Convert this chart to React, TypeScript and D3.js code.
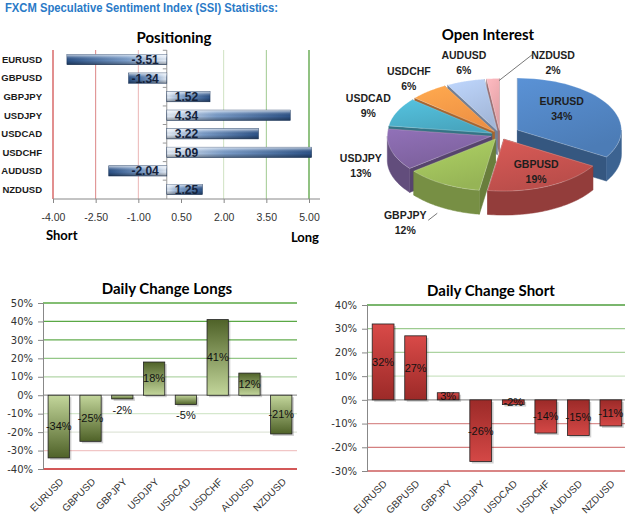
import { useEffect, useRef } from 'react'
import * as d3 from 'd3'

// currency pairs shared by every panel
const pairs = ['EURUSD', 'GBPUSD', 'GBPJPY', 'USDJPY', 'USDCAD', 'USDCHF', 'AUDUSD', 'NZDUSD']

// Positioning (SSI ratio)
const ssiValues = [-3.51, -1.34, 1.52, 4.34, 3.22, 5.09, -2.04, 1.25]
const positionTicks = [-4, -2.5, -1, 0.5, 2, 3.5, 5]

// Open interest share, %
const openInterest = [34, 19, 12, 13, 9, 6, 6, 2]

// Daily change, %
const longChange = [-34, -25, -2, 18, -5, 41, 12, -21]
const shortChange = [32, 27, 3, -26, -2, -14, -15, -11]
const longTicks = [50, 40, 30, 20, 10, 0, -10, -20, -30, -40]
const shortTicks = [40, 30, 20, 10, 0, -10, -20, -30]

// styles
const posGridColors = ['#d86a6a', '#dc8585', '#ebb5b5', 'none', '#cfe2c2', '#9fc98f', '#6cae58']
const longGridColors = ['#5aa845', '#5aa845', '#63ac4f', '#94c787', '#b3d6a8', '#999', '#d5e8cd', '#e0e6da', '#f1c6c6', '#c42020']
const shortGridColors = ['#4e9e3c', '#9dcb90', '#acd3a0', '#cde4c4', '#999', '#d98f8f', '#d48080', '#cc5c5c']
const pieColors = ['#4f81bd', '#c0504d', '#9bbb59', '#8064a2', '#4bacc6', '#f79646', '#a9bee0', '#e8a5aa']

const LS = 'Liberation Sans, Arial, sans-serif'
const LATO = 'Lato, Calibri, sans-serif'

const App = () => {
  const chart = useRef<SVGSVGElement>(null)

  useEffect(() => {
    const svg = d3.select(chart.current)
    svg.selectAll('*').remove()
    const defs = svg.append('defs')

    const gradient = (id: string, vertical: boolean, stops: [number, string, number?][]) => {
      const g = defs.append('linearGradient').attr('id', id)
        .attr('x1', 0).attr('y1', 0).attr('x2', vertical ? 0 : 1).attr('y2', vertical ? 1 : 0)
      stops.forEach(s => g.append('stop').attr('offset', s[0]).attr('stop-color', s[1]).attr('stop-opacity', s[2] ?? 1))
    }
    gradient('blueNeg', false, [[0, '#2c5287'], [0.6, '#7a9cc8'], [1, '#e4ecf6']])
    gradient('bluePos', false, [[0, '#e4ecf6'], [0.4, '#7a9cc8'], [1, '#2c5287']])
    gradient('sheen', true, [[0, '#fff', 0.7], [0.3, '#fff', 0.15], [0.6, '#000', 0], [1, '#000', 0.35]])
    gradient('greenPos', true, [[0, '#4f6228'], [1, '#c3d69b']])
    gradient('greenNeg', true, [[0, '#c3d69b'], [1, '#4f6228']])
    gradient('redPos', true, [[0, '#d94a48'], [1, '#9c2a28']])
    gradient('redNeg', true, [[0, '#9c2a28'], [1, '#d44846']])

    // page header
    svg.append('text')
      .attr('x', 5).attr('y', 12)
      .attr('font-family', LS).attr('font-weight', 'bold').attr('font-size', 12)
      .attr('textLength', 273).attr('lengthAdjust', 'spacingAndGlyphs')
      .attr('fill', '#2a7ac7')
      .text('FXCM Speculative  Sentiment  Index (SSI) Statistics:')

    // ---------- Positioning ----------
    const xs = d3.scaleLinear().domain([-4, 5]).range([53, 309])
    const ys = d3.scaleBand().domain(pairs).range([50, 199]).paddingInner(0.45).paddingOuter(0.24)
    const g1 = svg.append('g')

    g1.append('text').attr('x', 174).attr('y', 43).attr('text-anchor', 'middle')
      .attr('font-family', LATO).attr('font-weight', 'bold').attr('font-size', 15).text('Positioning')

    g1.selectAll('.grid').data(positionTicks).enter().append('line')
      .attr('x1', d => xs(d)).attr('x2', d => xs(d)).attr('y1', 50).attr('y2', 199)
      .attr('stroke', (d, i) => posGridColors[i])
      .attr('stroke-width', (d, i) => (i === 0 || i === 6 ? 1.5 : 1))

    const ax = g1.append('g').attr('transform', 'translate(0,199)')
      .call(d3.axisBottom(xs).tickValues(positionTicks).tickFormat(d => (+d).toFixed(2)).tickSize(4).tickPadding(11))
    ax.select('.domain').remove()
    ax.selectAll('line').attr('stroke', '#888')
    ax.selectAll('text').attr('font-family', LS).attr('font-size', 10.5).attr('fill', '#333')
    g1.append('line').attr('x1', 53).attr('x2', 320).attr('y1', 199).attr('y2', 199).attr('stroke', '#888')

    // category axis crossing at zero
    const x0 = xs(0)
    g1.append('line').attr('x1', x0).attr('x2', x0).attr('y1', 50).attr('y2', 199).attr('stroke', '#999')
    g1.selectAll('.minor').data(pairs).enter().append('line')
      .attr('x1', x0 - 4).attr('x2', x0).attr('y1', d => ys(d)! - ys.step() * 0.225).attr('y2', d => ys(d)! - ys.step() * 0.225)
      .attr('stroke', '#999')

    g1.selectAll('.cat').data(pairs).enter().append('text')
      .attr('x', 42).attr('y', d => ys(d)! + ys.bandwidth() / 2).attr('dy', '0.35em')
      .attr('text-anchor', 'end').attr('font-family', LS).attr('font-weight', 'bold').attr('font-size', 9.5)
      .attr('fill', '#1a1a1a').text(d => d)

    const bars = g1.selectAll('.bar').data(ssiValues).enter().append('g')
    bars.append('rect')
      .attr('x', d => xs(Math.min(0, d))).attr('y', (d, i) => ys(pairs[i])!)
      .attr('width', d => Math.abs(xs(d) - x0)).attr('height', ys.bandwidth())
      .attr('fill', d => (d < 0 ? 'url(#blueNeg)' : 'url(#bluePos)'))
      .attr('stroke', '#1f3a60').attr('stroke-width', 0.6)
    bars.append('rect')
      .attr('x', d => xs(Math.min(0, d))).attr('y', (d, i) => ys(pairs[i])!)
      .attr('width', d => Math.abs(xs(d) - x0)).attr('height', ys.bandwidth())
      .attr('fill', 'url(#sheen)')
    bars.append('text')
      .attr('x', d => (d < 0 ? x0 - 8 : x0 + 8)).attr('y', (d, i) => ys(pairs[i])! + ys.bandwidth() / 2)
      .attr('dy', '0.38em').attr('text-anchor', d => (d < 0 ? 'end' : 'start'))
      .attr('font-family', LS).attr('font-weight', 'bold').attr('font-size', 12).attr('fill', '#14223a')
      .text(d => d.toFixed(2))

    g1.append('text').attr('x', 46).attr('y', 240)
      .attr('font-family', LATO).attr('font-weight', 'bold').attr('font-size', 13).text('Short')
    g1.append('text').attr('x', 319).attr('y', 242).attr('text-anchor', 'end')
      .attr('font-family', LATO).attr('font-weight', 'bold').attr('font-size', 13).text('Long')

    // ---------- Open Interest (3D exploded pie) ----------
    const g2 = svg.append('g')
    g2.append('text').attr('x', 488).attr('y', 40).attr('text-anchor', 'middle')
      .attr('font-family', LATO).attr('font-weight', 'bold').attr('font-size', 15).text('Open Interest')

    const cx = 500, cy = 135, rx = 104, ry = 52, depth = 24
    const P = (a: number, r = 1): [number, number] => [rx * r * Math.sin(a), -ry * r * Math.cos(a)]
    const arcPts = (a0: number, a1: number, dy = 0): [number, number][] =>
      d3.range(0, 1.0001, 1 / 40).map(t => {
        const p = P(a0 + (a1 - a0) * t)
        return [p[0], p[1] + dy]
      })
    const line = d3.line()
    const slices = d3.pie<number>().sort(null).value(d => d)(openInterest)
    const explode = (i: number) => (i === 0 ? 20 : 9)

    type Face = { pts: [number, number][]; fill: string; z: number }
    const sideFaces: Face[] = []
    const topFaces: { pts: [number, number][]; i: number }[] = []

    slices.forEach((s, i) => {
      const mid = (s.startAngle + s.endAngle) / 2
      const e = explode(i)
      const ox = cx + e * Math.sin(mid), oy = cy - e * Math.cos(mid) * ry / rx
      const shift = (pts: [number, number][]) => pts.map(p => [p[0] + ox, p[1] + oy] as [number, number])
      const base = d3.color(pieColors[i])!
      const zOf = (pts: [number, number][]) => d3.mean(pts, p => p[1])!

      ;[s.startAngle, s.endAngle].forEach(a => {
        const p = P(a)
        const pts = shift([[0, 0], p, [p[0], p[1] + depth], [0, depth]])
        sideFaces.push({ pts, fill: base.darker(1.1).toString(), z: zOf(pts) })
      })
      const a0 = Math.max(s.startAngle, Math.PI / 2), a1 = Math.min(s.endAngle, Math.PI * 1.5)
      if (a0 < a1) {
        const pts = shift([...arcPts(a0, a1), ...arcPts(a1, a0, depth)])
        sideFaces.push({ pts, fill: base.darker(0.75).toString(), z: zOf(pts) + 5 })
      }
      topFaces.push({ pts: shift([[0, 0], ...arcPts(s.startAngle, s.endAngle)]), i })

      const tg = defs.append('linearGradient').attr('id', 'slice' + i)
        .attr('x1', 0).attr('y1', 0).attr('x2', 0.4).attr('y2', 1)
      tg.append('stop').attr('offset', 0).attr('stop-color', base.brighter(0.35).toString())
      tg.append('stop').attr('offset', 1).attr('stop-color', base.darker(0.1).toString())
    })

    sideFaces.sort((a, b) => a.z - b.z)
    g2.selectAll('.side').data(sideFaces).enter().append('path')
      .attr('d', d => line(d.pts) + 'Z').attr('fill', d => d.fill)
      .attr('stroke', d => d.fill).attr('stroke-width', 0.5)
    g2.selectAll('.top').data(topFaces).enter().append('path')
      .attr('d', d => line(d.pts) + 'Z').attr('fill', d => `url(#slice${d.i})`)
      .attr('stroke', '#fff').attr('stroke-opacity', 0.4).attr('stroke-width', 0.6)

    // pie labels
    const labelShift: Record<string, [number, number]> = { EURUSD: [-10, -6], GBPUSD: [6, 4], GBPJPY: [-22, 14], AUDUSD: [8, -4], NZDUSD: [62, 0] }
    slices.forEach((s, i) => {
      const mid = (s.startAngle + s.endAngle) / 2
      const e = explode(i)
      const ox = cx + e * Math.sin(mid), oy = cy - e * Math.cos(mid) * ry / rx
      const inside = s.data >= 15
      const p = P(mid, inside ? 0.6 : 1.3)
      const lower = Math.cos(mid) < 0 && !inside ? depth / 2 : 0
      const sh = labelShift[pairs[i]] ?? [0, 0]
      const lx = ox + p[0] + sh[0], ly = oy + p[1] + lower + sh[1]
      const t = g2.append('text').attr('text-anchor', 'middle')
        .attr('font-family', LS).attr('font-weight', 'bold').attr('font-size', 10.5).attr('fill', '#1e1e1e')
      t.append('tspan').attr('x', lx).attr('y', ly - 3.8).text(pairs[i])
      t.append('tspan').attr('x', lx).attr('y', ly + 11.2).text(s.data + '%')
      if (pairs[i] === 'NZDUSD') {
        const q = P(mid)
        g2.append('line').attr('x1', ox + q[0] + 6).attr('y1', oy + q[1] + 2)
          .attr('x2', lx - 20).attr('y2', ly - 9).attr('stroke', '#555').attr('stroke-width', 0.8)
      }
      if (pairs[i] === 'GBPJPY') {
        g2.append('line').attr('x1', lx + 23).attr('y1', ly - 3)
          .attr('x2', lx + 32).attr('y2', ly - 10).attr('stroke', '#555').attr('stroke-width', 0.8)
      }
    })

    // ---------- Daily change columns ----------
    const columns = (opts: {
      title: string; titleX: number; titleY: number
      values: number[]; ticks: number[]; gridColors: string[]
      xRange: [number, number]; yRange: [number, number]
      posFill: string; negFill: string; small: boolean; labelDx: number; labelY: number
    }) => {
      const g = svg.append('g')
      const [xa, xb] = opts.xRange
      const y = d3.scaleLinear().domain([d3.min(opts.ticks)!, d3.max(opts.ticks)!]).range(opts.yRange)
      const x = d3.scaleBand().domain(pairs).range([xa, xb]).paddingInner(0.33).paddingOuter(0.16)
      g.append('text').attr('x', opts.titleX).attr('y', opts.titleY).attr('text-anchor', 'middle')
        .attr('font-family', LATO).attr('font-weight', 'bold').attr('font-size', 15).text(opts.title)

      g.selectAll('.grid').data(opts.ticks).enter().append('line')
        .attr('x1', xa).attr('x2', xb).attr('y1', d => y(d)).attr('y2', d => y(d))
        .attr('stroke', (d, i) => opts.gridColors[i])
        .attr('stroke-width', (d, i) => (i === 0 || i === opts.ticks.length - 1 ? 1.5 : 1.2))

      const ya = g.append('g').attr('transform', `translate(${xa},0)`)
        .call(d3.axisLeft(y).tickValues(opts.ticks).tickFormat(d => d + '%').tickSize(5).tickPadding(5))
      ya.select('.domain').attr('stroke', '#888')
      ya.selectAll('line').attr('stroke', '#888')
      ya.selectAll('text').attr('font-family', 'DejaVu Sans, sans-serif').attr('font-size', 10).attr('fill', '#333')

      g.selectAll('.shadow').data(opts.values).enter().append('rect')
        .attr('x', (d, i) => x(pairs[i])! + 2).attr('y', d => y(Math.max(0, d)) + 2)
        .attr('width', x.bandwidth()).attr('height', d => Math.abs(y(d) - y(0)))
        .attr('fill', '#000').attr('opacity', 0.18)
      g.selectAll('.bar').data(opts.values).enter().append('rect')
        .attr('x', (d, i) => x(pairs[i])!).attr('y', d => y(Math.max(0, d)))
        .attr('width', x.bandwidth()).attr('height', d => Math.abs(y(d) - y(0)))
        .attr('fill', d => (d < 0 ? opts.negFill : opts.posFill))
        .attr('stroke', '#222').attr('stroke-width', 0.8)

      g.selectAll('.val').data(opts.values).enter().append('text')
        .attr('x', (d, i) => x(pairs[i])! + x.bandwidth() / 2)
        .attr('y', d => (opts.small && Math.abs(d) < 10 ? y(d) + (d < 0 ? 11 : -7) : (y(d) + y(0)) / 2))
        .attr('dy', '0.35em').attr('text-anchor', 'middle')
        .attr('font-family', LS).attr('font-size', 11).attr('fill', '#111')
        .text(d => d + '%')

      g.selectAll('.xl').data(pairs).enter().append('text')
        .attr('transform', d => `translate(${x(d)! + x.bandwidth() / 2 + opts.labelDx},${opts.labelY}) rotate(-45)`)
        .attr('text-anchor', 'end').attr('dy', '0.35em')
        .attr('font-family', LS).attr('font-size', 10).attr('fill', '#333')
        .text(d => d)
    }

    columns({
      title: 'Daily Change Longs', titleX: 167, titleY: 294,
      values: longChange, ticks: longTicks, gridColors: longGridColors,
      xRange: [43, 297], yRange: [469, 303],
      posFill: 'url(#greenPos)', negFill: 'url(#greenNeg)', small: true, labelDx: 3, labelY: 480
    })
    columns({
      title: 'Daily Change Short', titleX: 491, titleY: 296,
      values: shortChange, ticks: shortTicks, gridColors: shortGridColors,
      xRange: [367, 627], yRange: [471, 305],
      posFill: 'url(#redPos)', negFill: 'url(#redNeg)', small: false, labelDx: 2, labelY: 482
    })
  }, [])

  return (
    <svg ref={chart} width={625} height={517}
      style={{ position: 'absolute', left: 0, top: 0, background: '#fff' }} />
  )
}

export default App
